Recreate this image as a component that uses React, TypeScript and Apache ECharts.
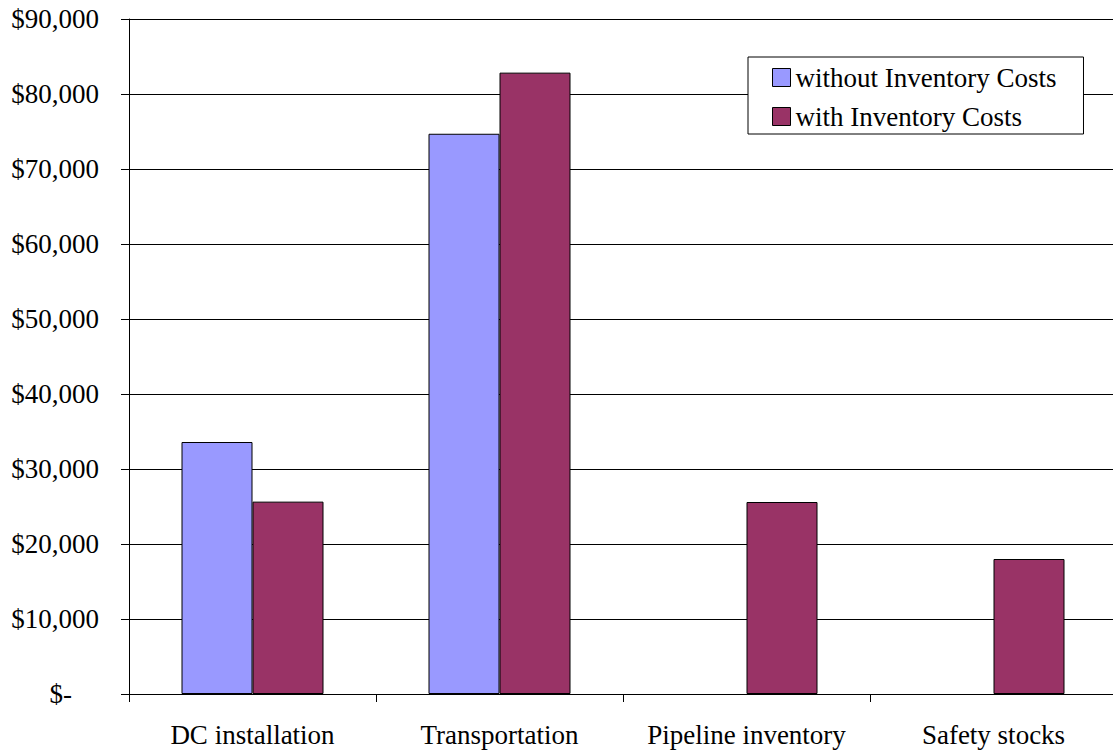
import React, { useEffect, useRef } from "react";
import * as echarts from "echarts";

const categories = ["DC installation", "Transportation", "Pipeline inventory", "Safety stocks"];
const withoutInventory = [33600, 74700, null, null];
const withInventory = [25650, 82850, 25600, 18000];
const seriesNames = ["without Inventory Costs", "with Inventory Costs"];
const seriesColors = ["#9999FF", "#993366"];

const FONT = '"Liberation Serif", "Times New Roman", serif';
const FS = 27;

function formatDollar(v: number): string {
  if (v === 0) return "{z|$-}";
  return "$" + v.toLocaleString("en-US");
}

export default function App() {
  const ref = useRef<HTMLDivElement>(null);

  useEffect(() => {
    if (!ref.current) return;
    const chart = echarts.init(ref.current, undefined, { renderer: "svg" });
    chart.setOption({
      animation: false,
      backgroundColor: "#fff",
      textStyle: { fontFamily: FONT, color: "#000" },
      grid: { left: 129, top: 19, bottom: 61, right: 0, containLabel: false },
      legend: {
        orient: "vertical",
        left: 748,
        top: 57,
        padding: [7, 27, 4, 24],
        itemGap: 12,
        itemWidth: 18,
        itemHeight: 18,
        icon: "rect",
        backgroundColor: "#fff",
        borderColor: "#000",
        borderWidth: 1,
        itemStyle: { borderColor: "#000", borderWidth: 1 },
        textStyle: { fontFamily: FONT, fontSize: FS, color: "#000" },
        data: seriesNames,
      },
      xAxis: {
        type: "category",
        data: categories,
        axisLine: { lineStyle: { color: "#000", width: 1 } },
        axisTick: { show: true, interval: 0, length: 8, lineStyle: { color: "#000" } },
        axisLabel: { interval: 0, fontFamily: FONT, fontSize: FS, color: "#000", margin: 27 },
      },
      yAxis: {
        type: "value",
        min: 0,
        max: 90000,
        interval: 10000,
        axisLine: { show: true, lineStyle: { color: "#000", width: 1 } },
        axisTick: { show: true, length: 8, lineStyle: { color: "#000" } },
        splitLine: { show: true, lineStyle: { color: "#000", width: 1 } },
        axisLabel: {
          fontFamily: FONT,
          fontSize: FS,
          color: "#000",
          margin: 30,
          formatter: formatDollar,
          rich: { z: { fontFamily: FONT, fontSize: FS, color: "#000", padding: [0, 27, 0, 0] } },
        },
      },
      series: [
        {
          name: seriesNames[0],
          type: "bar",
          data: withoutInventory,
          barWidth: 71,
          barGap: "0%",
          itemStyle: { color: seriesColors[0], borderColor: "#000", borderWidth: 1 },
        },
        {
          name: seriesNames[1],
          type: "bar",
          data: withInventory,
          barWidth: 71,
          barGap: "0%",
          itemStyle: { color: seriesColors[1], borderColor: "#000", borderWidth: 1 },
        },
      ],
    });
    return () => chart.dispose();
  }, []);

  return (
    <div style={{ position: "absolute", left: 0, top: 0, width: 1113, height: 755, overflow: "hidden" }}>
      <div ref={ref} style={{ width: 1117, height: 755 }} />
    </div>
  );
}
